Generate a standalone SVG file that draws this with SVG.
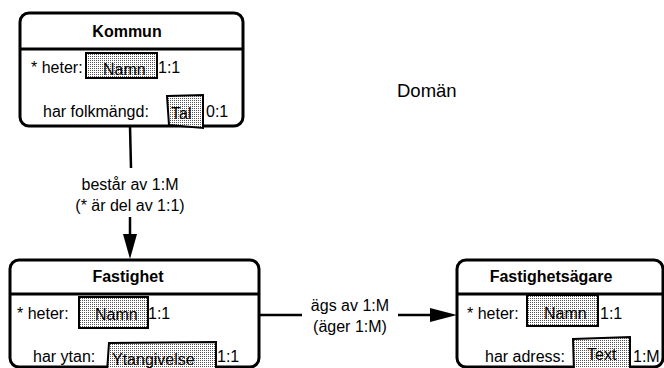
<svg xmlns="http://www.w3.org/2000/svg" width="664" height="368" viewBox="0 0 664 368">
<style>
text{font-family:"Liberation Sans",Arial,sans-serif;font-size:16px;fill:#000}
.t{font-weight:bold;text-anchor:middle}
.c{text-anchor:middle}
.box{fill:#fff;stroke:#000;stroke-width:3}
.hd{stroke:#000;stroke-width:3}
.val{fill:url(#dots);stroke:#000;stroke-width:2}
.ln{stroke:#000;stroke-width:2.5;fill:none}
</style>
<defs>
<pattern id="dots" width="2" height="2" patternUnits="userSpaceOnUse">
<rect width="2" height="2" fill="#fff"/>
<rect width="1" height="1" fill="#555"/>
</pattern>
</defs>
<g id="connectors">
<path class="ln" d="M130,126 L131,168"/>
<path class="ln" d="M130,217 L130,236"/>
<path d="M123,234 L137,234 L130,259 z" fill="#000"/>
<text class="c" x="130" y="190">består av 1:M</text>
<text class="c" x="130" y="211">(* är del av 1:1)</text>
<path class="ln" d="M259,315 L302,315"/>
<path class="ln" d="M398,315 L432,315"/>
<path d="M430,308 L457,315 L430,322 z" fill="#000"/>
<text class="c" x="350" y="311">ägs av 1:M</text>
<text class="c" x="350" y="332">(äger 1:M)</text>
</g>
<g id="kommun">
<rect class="box" x="20" y="13" width="223" height="113" rx="9"/>
<line class="hd" x1="20" y1="49" x2="243" y2="49"/>
<text class="t" x="127" y="37">Kommun</text>
<text x="31" y="73">* heter:</text>
<rect class="val" x="86" y="53" width="71" height="25"/>
<text x="103" y="75">Namn</text>
<text x="158" y="73">1:1</text>
<text x="43" y="117">har folkmängd:</text>
<path class="val" d="M167,96 L203,95 L203,128 L169,125 z"/>
<text x="171" y="119">Tal</text>
<text x="206" y="117">0:1</text>
</g>
<g id="fastighet">
<rect class="box" x="10" y="260" width="249" height="107" rx="9"/>
<line class="hd" x1="10" y1="294" x2="259" y2="294"/>
<text class="t" x="128" y="282">Fastighet</text>
<text x="17" y="319">* heter:</text>
<rect class="val" x="79" y="297" width="69" height="31"/>
<text x="95" y="320">Namn</text>
<text x="148" y="319">1:1</text>
<text x="33" y="362">har ytan:</text>
<path class="val" d="M109,343 L216,342 L216,372 L107,372 z"/>
<text x="112" y="365">Ytangivelse</text>
<text x="217" y="362">1:1</text>
</g>
<g id="fastighetsagare">
<rect class="box" x="457" y="260" width="206" height="107" rx="9"/>
<line class="hd" x1="457" y1="294" x2="663" y2="294"/>
<text class="t" x="551" y="282">Fastighetsägare</text>
<text x="467" y="319">* heter:</text>
<rect class="val" x="527" y="295" width="71" height="31"/>
<text x="544" y="319">Namn</text>
<text x="600" y="319">1:1</text>
<text x="485" y="362">har adress:</text>
<path class="val" d="M573,339 L630,337 L630,372 L574,372 z"/>
<text x="587" y="360">Text</text>
<text x="633" y="362">1:M</text>
</g>
<text x="397" y="97" style="font-size:18.5px">Domän</text>
</svg>
